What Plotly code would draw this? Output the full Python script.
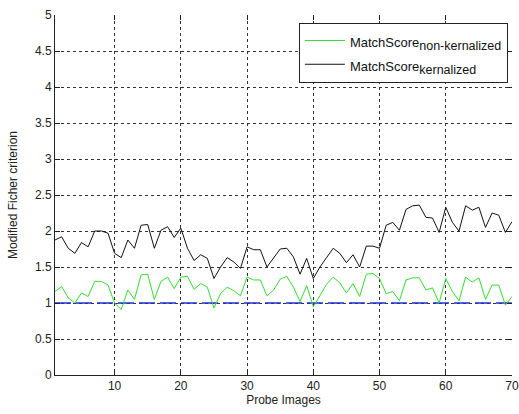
import plotly.graph_objects as go

probe_images = list(range(1, 71))

match_nonkernel = [1.16, 1.23, 1.07, 1.00, 1.14, 1.09, 1.30, 1.30, 1.25, 1.00,
                   0.91, 1.18, 1.05, 1.39, 1.40, 1.05, 1.30, 1.36, 1.20, 1.36,
                   1.37, 1.19, 1.27, 1.22, 0.93, 1.13, 1.22, 1.17, 1.10, 1.36,
                   1.32, 1.32, 1.10, 1.18, 1.33, 1.37, 1.22, 1.02, 1.24, 0.95,
                   1.10, 1.26, 1.36, 1.28, 1.14, 1.27, 1.09, 1.40, 1.41, 1.34,
                   1.13, 1.16, 1.03, 1.32, 1.35, 1.35, 1.18, 1.21, 1.00, 1.34,
                   1.16, 1.03, 1.36, 1.29, 1.35, 1.05, 1.25, 1.25, 0.97, 1.09]

match_kernel = [1.875, 1.92, 1.76, 1.69, 1.84, 1.78, 2.00, 2.00, 1.97, 1.69,
                1.63, 1.875, 1.76, 2.08, 2.09, 1.76, 2.01, 2.06, 1.91, 2.04,
                1.76, 1.59, 1.67, 1.62, 1.34, 1.50, 1.63, 1.57, 1.48, 1.78,
                1.74, 1.74, 1.50, 1.63, 1.75, 1.76, 1.64, 1.40, 1.62, 1.34,
                1.50, 1.63, 1.76, 1.69, 1.56, 1.67, 1.50, 1.79, 1.79, 1.76,
                2.08, 2.12, 2.01, 2.30, 2.35, 2.36, 2.19, 2.18, 1.98, 2.33,
                2.12, 2.00, 2.35, 2.29, 2.33, 2.05, 2.25, 2.22, 1.98, 2.13]

baseline_x = [1, 70]
baseline_y = [1.0, 1.0]

x_ticks = [10, 20, 30, 40, 50, 60, 70]
y_ticks = [0, 0.5, 1, 1.5, 2, 2.5, 3, 3.5, 4, 4.5, 5]
y_ticklabels = ["0", "0.5", "1", "1.5", "2", "2.5", "3", "3.5", "4", "4.5", "5"]

legend_fmt = ('<span style="font-size:13px">MatchScore</span>'
              '<sub><span style="font-size:12.5px">{}</span></sub>')

fig = go.Figure()
fig.add_trace(go.Scatter(x=baseline_x, y=baseline_y, mode="lines",
                         line=dict(color="#1c2fd0", width=1.3, dash="16px,5px"),
                         showlegend=False, hoverinfo="skip"))
fig.add_trace(go.Scatter(x=probe_images, y=match_nonkernel, mode="lines",
                         name=legend_fmt.format("non-kernalized"),
                         line=dict(color="#33dd33", width=1)))
fig.add_trace(go.Scatter(x=probe_images, y=match_kernel, mode="lines",
                         name=legend_fmt.format("kernalized"),
                         line=dict(color="#111111", width=1)))

font_family = "Liberation Sans, Arial, sans-serif"
grid_common = dict(showgrid=True, gridcolor="#333333", gridwidth=1,
                   griddash="3px,3px", zeroline=False, automargin=False)
fig.update_layout(
    width=519, height=414,
    margin=dict(l=55, r=7, t=15, b=39),
    paper_bgcolor="white", plot_bgcolor="white",
    font=dict(family=font_family, size=12, color="#222222"),
    showlegend=True,
    legend=dict(x=0.991, y=0.979, xanchor="right", yanchor="top",
                bgcolor="white", bordercolor="#222222", borderwidth=1,
                font=dict(size=16, color="#111111"),
                tracegroupgap=0, itemwidth=40),
    xaxis=dict(range=[1, 70], tickvals=x_ticks, ticks="inside", ticklen=5,
               tickcolor="#222222", showline=True, linecolor="#222222",
               linewidth=1,
               title=dict(text="Probe Images", standoff=2,
                          font=dict(size=12)),
               **grid_common),
    yaxis=dict(range=[0, 5], tickvals=y_ticks, ticktext=y_ticklabels,
               ticks="inside", ticklen=5, tickcolor="#222222",
               showline=True, linecolor="#222222", linewidth=1,
               title=dict(text="Modified Ficher criterion", standoff=14,
                          font=dict(size=12)),
               **grid_common),
    xaxis2=dict(range=[1, 70], tickvals=x_ticks, ticks="inside", ticklen=5,
                tickcolor="#222222", showticklabels=False, showline=False,
                showgrid=False, zeroline=False, overlaying="x", side="top",
                anchor="y", automargin=False),
    yaxis2=dict(range=[0, 5], tickvals=y_ticks, ticks="inside", ticklen=5,
                tickcolor="#222222", showticklabels=False, showline=False,
                showgrid=False, zeroline=False, overlaying="y", side="right",
                anchor="x", automargin=False),
)
# invisible helper trace so the mirrored tick axes are drawn
fig.add_trace(go.Scatter(x=baseline_x, y=baseline_y, xaxis="x2", yaxis="y2",
                         mode="lines", line=dict(width=0), opacity=0,
                         showlegend=False, hoverinfo="skip"))

fig.write_html(
    "out.html",
    config={"displayModeBar": False},
    post_script="document.body.style.margin='0';"
                "document.body.style.overflow='hidden';",
)
